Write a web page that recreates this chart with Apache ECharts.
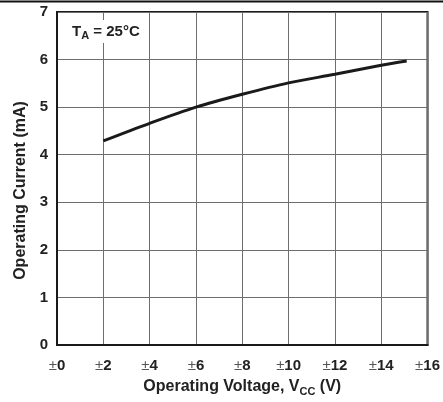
<!DOCTYPE html>
<html><head><meta charset="utf-8">
<script src="https://cdn.jsdelivr.net/npm/echarts@6/dist/echarts.min.js"></script>
<style>html,body{margin:0;padding:0;background:#fff}#c{width:443px;height:402px}</style>
</head><body><div id="c"></div>
<script>
var voltage = [2, 4, 6, 8, 10, 12, 14, 15.1];
var current = [4.29, 4.66, 5.0, 5.27, 5.51, 5.69, 5.88, 5.97];
var xTicks = [0, 2, 4, 6, 8, 10, 12, 14, 16];

var chart = echarts.init(document.getElementById('c'));
var F = 'Liberation Sans, Arial, sans-serif';
chart.setOption({
  animation: false,
  grid: {left: 57, right: 9, top: 12, bottom: 56, show: true, borderColor: '#1a1a1a', borderWidth: 2},
  xAxis: {
    type: 'value', min: 0, max: 16, interval: 2,
    axisLine: {show: true, lineStyle: {color: '#1a1a1a', width: 2}},
    axisTick: {show: false},
    splitLine: {show: true, lineStyle: {color: '#6e6e6e', width: 1}},
    axisLabel: {formatter: function(v){return '{pm|\u00b1}{b|' + v + '}';}, margin: 13,
      rich: {
        pm: {color: '#555', fontFamily: F, fontSize: 15, fontWeight: 'normal'},
        b: {color: '#222', fontFamily: F, fontSize: 15, fontWeight: 'bold'}
      }},
    name: 'Operating Voltage, V{s|CC} (V)', nameLocation: 'middle', nameGap: 32,
    nameTextStyle: {color: '#222', fontFamily: F, fontSize: 16, fontWeight: 'bold',
      rich: {s: {fontSize: 11, fontWeight: 'bold', fontFamily: F, color: '#222', verticalAlign: 'bottom', padding: [9,0,0,0]}}}
  },
  yAxis: {
    type: 'value', min: 0, max: 7, interval: 1,
    axisLine: {show: true, lineStyle: {color: '#1a1a1a', width: 2}},
    axisTick: {show: false},
    splitLine: {show: true, lineStyle: {color: '#6e6e6e', width: 1}},
    axisLabel: {color: '#222', fontFamily: F, fontSize: 15, fontWeight: 'bold', margin: 9},
    name: 'Operating Current (mA)', nameLocation: 'middle', nameGap: 27, nameRotate: 90,
    nameTextStyle: {color: '#222', fontFamily: F, fontSize: 16, fontWeight: 'bold', padding: [0, 24, 0, 0]}
  },
  series: [{
    type: 'line', symbol: 'none', smooth: 0.3,
    lineStyle: {color: '#1a1a1a', width: 3},
    data: voltage.map(function(v, i){ return [v, current[i]]; })
  }],
  graphic: [
    {type: 'line', shape: {x1: 0, y1: 1.5, x2: 443, y2: 1.5}, style: {stroke: '#111', lineWidth: 2}},
    {type: 'text', left: 68, top: 20, z: 10, style: {
      text: 'T{s|A} = 25\u00b0C', fill: '#222', font: 'bold 15px ' + F,
      backgroundColor: '#fff', padding: [2, 4, 2, 4],
      rich: {s: {fontSize: 11, fontWeight: 'bold', fontFamily: F, fill: '#222', verticalAlign: 'bottom', padding: [8,0,0,0]}}
    }}
  ]
});
</script></body></html>
